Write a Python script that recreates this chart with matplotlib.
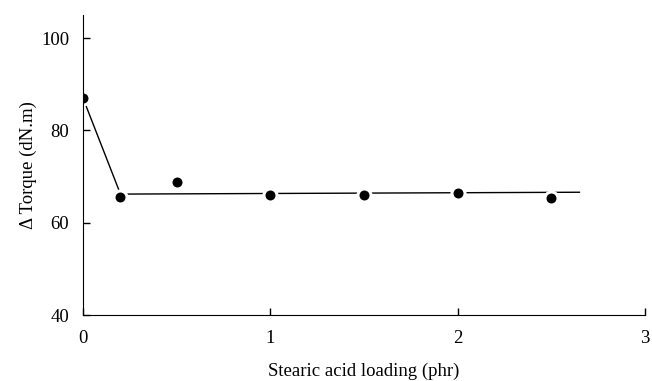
import matplotlib.pyplot as plt

plt.rcParams['font.family'] = ['Liberation Serif', 'DejaVu Serif']

# measured points
loading = [0, 0.2, 0.5, 1, 1.5, 2, 2.5]
torque = [87, 65.6, 68.9, 66.1, 66.1, 66.4, 65.4]

# trend line drawn by hand in the original
fit_x = [0.0, 0.2, 2.65]
fit_y = [87, 66.2, 66.6]

fig = plt.figure(figsize=(6.52, 3.81), dpi=100)
ax = fig.add_axes([0.1273, 0.1732, 0.862, 0.7874])

ax.plot(fit_x, fit_y, color='black', lw=1.0, zorder=1)
ax.plot(loading, torque, 'o', color='black', ms=9.4, mec='white', mew=2.2, zorder=2)

ax.set_xlim(0, 3)
ax.set_ylim(40, 105)
ax.set_xticks([0, 1, 2, 3])
ax.set_yticks([40, 60, 80, 100])
ax.spines['top'].set_visible(False)
ax.spines['right'].set_visible(False)
ax.tick_params(direction='in', length=5, width=1, labelsize=13.5)
ax.tick_params(axis='x', pad=11)
ax.tick_params(axis='y', pad=10)
ax.set_xlabel('Stearic acid loading (phr)', fontsize=13.5, labelpad=11)
ax.set_ylabel('Δ Torque (dN.m)', fontsize=13.5, labelpad=3)

fig.savefig('out.png', dpi=100)
